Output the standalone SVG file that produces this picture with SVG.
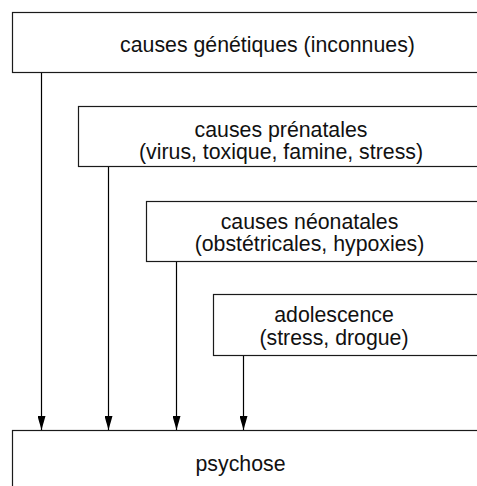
<svg xmlns="http://www.w3.org/2000/svg" width="477" height="486" viewBox="0 0 477 486">
  <defs>
    <style>
      .box { fill: #ffffff; stroke: #1a1a1a; stroke-width: 1.2; }
      .lbl { font-family: "Liberation Sans", Arial, sans-serif; font-size: 21.3px; fill: #111111; text-anchor: middle; }
      .edge { stroke: #000000; stroke-width: 1.2; fill: none; marker-end: url(#arrow); }
    </style>
    <marker id="arrow" viewBox="0 0 14 8" refX="14" refY="4" markerWidth="14" markerHeight="8" orient="auto" markerUnits="userSpaceOnUse">
      <path d="M0,0 L14,4 L0,8 Z" fill="#000000"/>
    </marker>
  </defs>
  <rect width="477" height="486" fill="#ffffff"/>

  <g id="genetique">
    <rect class="box" x="12.5" y="12.5" width="480" height="60"/>
    <text class="lbl" x="267.5" y="52">causes génétiques (inconnues)</text>
  </g>

  <g id="prenatale">
    <rect class="box" x="78.5" y="106.5" width="420" height="60"/>
    <text class="lbl" x="281" y="137">causes prénatales</text>
    <text class="lbl" x="281" y="159">(virus, toxique, famine, stress)</text>
  </g>

  <g id="neonatale">
    <rect class="box" x="146.5" y="201.5" width="340" height="60"/>
    <text class="lbl" x="309.5" y="229">causes néonatales</text>
    <text class="lbl" x="309.5" y="251">(obstétricales, hypoxies)</text>
  </g>

  <g id="adolescence">
    <rect class="box" x="213.5" y="294.5" width="280" height="61"/>
    <text class="lbl" x="334" y="322">adolescence</text>
    <text class="lbl" x="334" y="345">(stress, drogue)</text>
  </g>

  <g id="psychose">
    <rect class="box" x="12.5" y="430.5" width="480" height="70"/>
    <text class="lbl" x="240.5" y="471">psychose</text>
  </g>

  <g id="connectors">
    <line class="edge" x1="41.5" y1="73" x2="41.5" y2="430"/>
    <line class="edge" x1="108.5" y1="167" x2="108.5" y2="430"/>
    <line class="edge" x1="176.5" y1="262" x2="176.5" y2="430"/>
    <line class="edge" x1="243.5" y1="356" x2="243.5" y2="430"/>
  </g>
</svg>
